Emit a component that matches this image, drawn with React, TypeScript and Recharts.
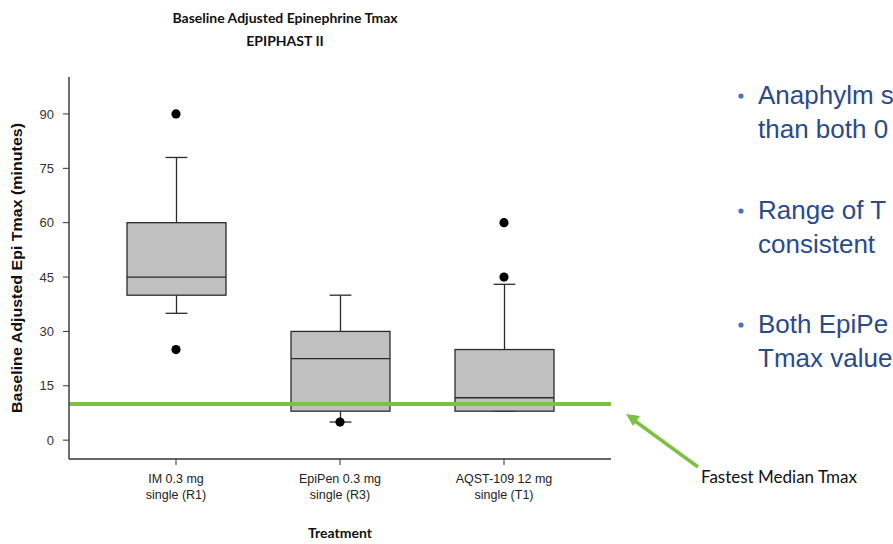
import React from "react";
import {
  ComposedChart,
  Bar,
  Scatter,
  XAxis,
  YAxis,
  ReferenceLine,
} from "recharts";

// treatment groups (x categories, "|" splits the two label lines)
const categories = [
  "IM 0.3 mg|single (R1)",
  "EpiPen 0.3 mg|single (R3)",
  "AQST-109 12 mg|single (T1)",
];

// box plot statistics (minutes)
const whiskerLow = [35, 5, 8];
const q1 = [40, 8, 8];
const median = [45, 22.5, 11.7];
const q3 = [60, 30, 25];
const whiskerHigh = [78, 40, 43];

// outliers per category (null = none)
const outlierA = [90, 5, 60];
const outlierB = [25, null, 45];

const yTicks = [0, 15, 30, 45, 60, 75, 90];
const fastestMedianTmax = 10;

const bullets = [
  ["Anaphylm s", "than both 0"],
  ["Range of T", "consistent"],
  ["Both EpiPe", "Tmax value"],
];

const data = categories.map((name, i) => ({
  name,
  range: [whiskerLow[i], whiskerHigh[i]],
  q1: q1[i],
  median: median[i],
  q3: q3[i],
  outA: outlierA[i],
  outB: outlierB[i],
}));

const AXIS = "#333";
const LABEL_FONT = "'Liberation Sans', Arial, sans-serif";

function BoxShape(props: any) {
  const { x, y, width, height, payload } = props;
  if (!payload) return null;
  const top = Math.min(y, y + height);
  const bot = Math.max(y, y + height);
  const [lo, hi] = payload.range;
  const py = (v: number) =>
    hi === lo ? top : bot - ((v - lo) / (hi - lo)) * (bot - top);
  const cx = x + width / 2;
  const cap = width * 0.11;
  const yq1 = py(payload.q1);
  const yq3 = py(payload.q3);
  const ymed = py(payload.median);
  return (
    <g stroke="#2b2b2b" strokeWidth={1.3}>
      <line x1={cx} x2={cx} y1={top} y2={yq3} />
      <line x1={cx} x2={cx} y1={yq1} y2={bot} />
      <line x1={cx - cap} x2={cx + cap} y1={top} y2={top} />
      <line x1={cx - cap} x2={cx + cap} y1={bot} y2={bot} />
      <rect x={x} y={yq3} width={width} height={yq1 - yq3} fill="#c0c0c0" />
      <line x1={x} x2={x + width} y1={ymed} y2={ymed} />
    </g>
  );
}

const makeDot = (key: string) => (props: any) => {
  const { cx, cy, payload } = props;
  if (!payload || payload[key] == null || !isFinite(cy)) return <g />;
  return <circle cx={cx} cy={cy} r={4.6} fill="#000" />;
};

function CategoryTick(props: any) {
  const { x, y, payload } = props;
  const lines = String(payload.value).split("|");
  return (
    <g transform={`translate(${x},${y})`}>
      {lines.map((l, i) => (
        <text
          key={i}
          x={0}
          y={16 + i * 16}
          textAnchor="middle"
          fontFamily={LABEL_FONT}
          fontSize={12.5}
          fill="#222"
        >
          {l}
        </text>
      ))}
    </g>
  );
}

export default function App() {
  return (
    <div
      style={{
        position: "absolute",
        left: 0,
        top: 0,
        width: 893,
        height: 544,
        overflow: "hidden",
        background: "#fff",
      }}
    >
      <ComposedChart
        width={893}
        height={544}
        data={data}
        margin={{ top: 77, right: 282, left: 9, bottom: 25 }}
      >
        <XAxis
          dataKey="name"
          padding={{ left: 25, right: 25 }}
          tick={<CategoryTick />}
          tickSize={6}
          tickLine={{ stroke: AXIS }}
          axisLine={{ stroke: AXIS, strokeWidth: 1.4 }}
          height={60}
          interval={0}
          label={{
            content: (p: any) => {
              const vb = p.viewBox || {};
              return (
                <text
                  x={vb.x + vb.width / 2}
                  y={538}
                  textAnchor="middle"
                  fontFamily="Lato, 'Open Sans', sans-serif"
                  fontWeight={700}
                  fontSize={14}
                  fill="#111"
                >
                  Treatment
                </text>
              );
            },
          }}
        />
        <XAxis
          xAxisId="top"
          orientation="top"
          dataKey="name"
          height={0}
          tick={false}
          tickLine={false}
          axisLine={{ stroke: AXIS, strokeWidth: 1.4 }}
        />
        <YAxis
          type="number"
          domain={[-5.2, 100.2]}
          ticks={yTicks}
          allowDataOverflow
          width={60}
          tickSize={6}
          tickMargin={9}
          tickLine={{ stroke: AXIS }}
          axisLine={{ stroke: AXIS, strokeWidth: 1.4 }}
          tick={{ fontFamily: LABEL_FONT, fontSize: 13, fill: "#333" }}
          label={{
            content: () => {
              const cx = 18;
              const cy = 77 + 191;
              return (
                <text
                  x={cx}
                  y={cy}
                  transform={`rotate(-90 ${cx} ${cy})`}
                  textAnchor="middle"
                  dominantBaseline="middle"
                  fontFamily={LABEL_FONT}
                  fontWeight={700}
                  fontSize={14}
                  textLength={290}
                  lengthAdjust="spacingAndGlyphs"
                  fill="#111"
                >
                  Baseline Adjusted Epi Tmax (minutes)
                </text>
              );
            },
          }}
        />
        <YAxis
          yAxisId="right"
          orientation="right"
          width={0}
          tick={false}
          tickLine={false}
          axisLine={{ stroke: AXIS, strokeWidth: 1.4 }}
        />
        <Bar
          dataKey="range"
          barSize={99}
          shape={BoxShape}
          isAnimationActive={false}
        />
        <Scatter dataKey="outA" shape={makeDot("outA")} isAnimationActive={false} />
        <Scatter dataKey="outB" shape={makeDot("outB")} isAnimationActive={false} />
        <ReferenceLine
          y={fastestMedianTmax}
          stroke="#7dc142"
          strokeWidth={4}
          ifOverflow="extendDomain"
        />
      </ComposedChart>

      <svg
        width={893}
        height={544}
        style={{ position: "absolute", left: 0, top: 0, pointerEvents: "none" }}
      >
        <g
          fontFamily="Lato, 'Open Sans', sans-serif"
          fontWeight={700}
          fontSize={14}
          fill="#111"
          textAnchor="middle"
        >
          <text x={285} y={23}>
            Baseline Adjusted Epinephrine Tmax
          </text>
          <text x={285} y={46}>
            EPIPHAST II
          </text>
        </g>

        {bullets.map((b, i) => {
          const base = [104, 219, 333][i];
          return (
            <g key={i}>
              <circle cx={741} cy={base - 8} r={2.6} fill="#4a72c0" />
              {b.map((line, j) => (
                <text
                  key={j}
                  x={758}
                  y={base + j * 34}
                  fontFamily={LABEL_FONT}
                  fontSize={26}
                  fill="#2c4a8a"
                >
                  {line}
                </text>
              ))}
            </g>
          );
        })}

        <line
          x1={698}
          y1={467}
          x2={635}
          y2={421}
          stroke="#7dc142"
          strokeWidth={3.5}
        />
        <polygon points="626,414 640,416 633,426" fill="#7dc142" />
        <text
          x={701}
          y={483}
          fontFamily="Lato, 'Open Sans', sans-serif"
          fontSize={17}
          fill="#111"
        >
          Fastest Median Tmax
        </text>
      </svg>
    </div>
  );
}
